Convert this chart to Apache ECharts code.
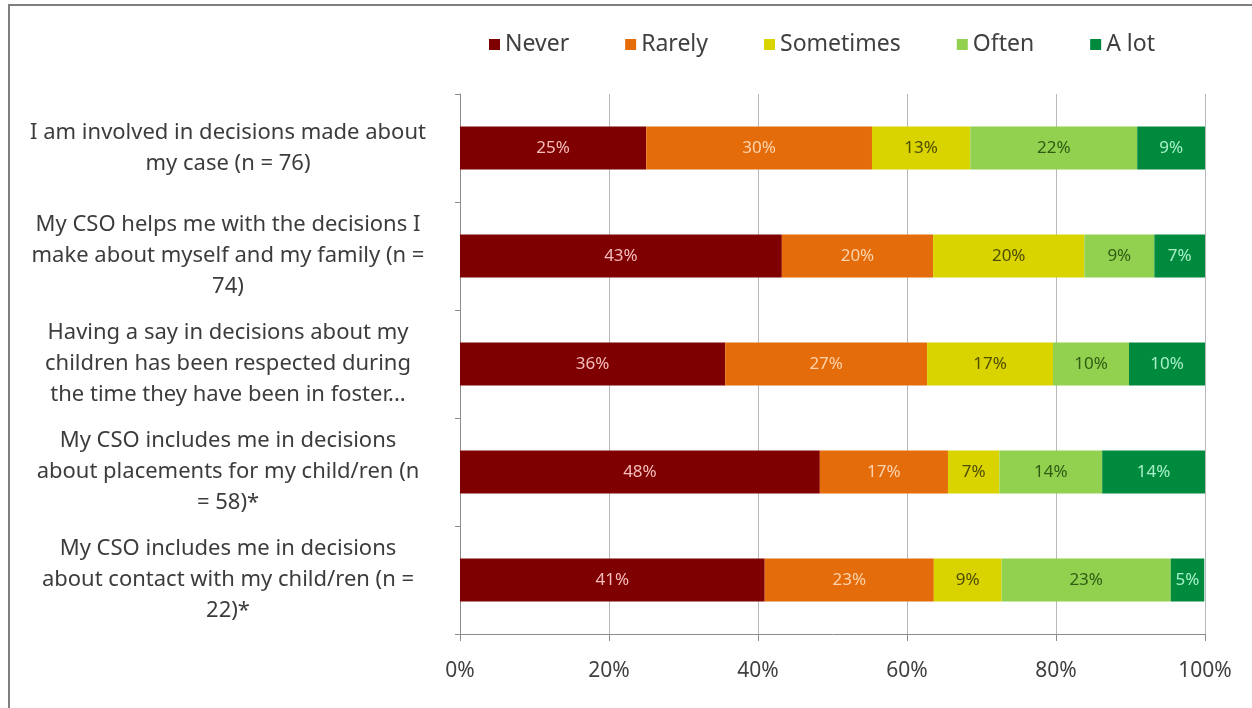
<!DOCTYPE html>
<html>
<head>
<meta charset="utf-8">
<script src="https://cdn.jsdelivr.net/npm/echarts@6/dist/echarts.min.js"></script>
<style>
  html, body { margin: 0; padding: 0; background: #ffffff; }
  #chart { width: 1252px; height: 708px; }
</style>
</head>
<body>
<div id="chart"></div>
<script>
// Survey statements (top to bottom)
const categories = [
  'I am involved in decisions made about\nmy case (n = 76)',
  'My CSO helps me with the decisions I\nmake about myself and my family (n =\n74)',
  'Having a say in decisions about my\nchildren has been respected during\nthe time they have been in foster...',
  'My CSO includes me in decisions\nabout placements for my child/ren (n\n= 58)*',
  'My CSO includes me in decisions\nabout contact with my child/ren (n =\n22)*'
];

// Share of responses per statement, in percent
const never     = [25.0, 43.2, 35.6, 48.3, 40.9];
const rarely    = [30.3, 20.3, 27.1, 17.2, 22.7];
const sometimes = [13.2, 20.3, 16.9,  6.9,  9.1];
const often     = [22.4,  9.4, 10.2, 13.8, 22.7];
const aLot      = [ 9.2,  6.8, 10.2, 13.8,  4.5];

const seriesNames = ['Never', 'Rarely', 'Sometimes', 'Often', 'A lot'];
const xTicks = [0, 20, 40, 60, 80, 100];

const fillColors  = ['#7f0000', '#e46c0a', '#d9d400', '#92d050', '#008a3e'];
const labelColors = ['#f6bcbc', '#fdd3ac', '#4f4d00', '#2f5c12', '#a6f0c6'];
const seriesData  = [never, rarely, sometimes, often, aLot];

const FONT = "'Noto Sans', 'DejaVu Sans', sans-serif";

const chart = echarts.init(document.getElementById('chart'));

const option = {
  backgroundColor: '#ffffff',
  animation: false,
  graphic: [
    // frame around the figure (left and top edges)
    { type: 'line', shape: { x1: 9, y1: 5, x2: 9, y2: 708 }, style: { stroke: '#7f7f7f', lineWidth: 2 } },
    { type: 'line', shape: { x1: 8, y1: 5, x2: 1252, y2: 5 }, style: { stroke: '#7f7f7f', lineWidth: 2 } }
  ],
  legend: {
    top: 28,
    left: 484,
    itemWidth: 11,
    itemHeight: 11,
    itemGap: 56,
    icon: 'rect',
    textStyle: { fontFamily: FONT, fontSize: 23, color: '#404040' },
    data: seriesNames
  },
  grid: { left: 460, right: 47, top: 94, bottom: 74, containLabel: false },
  xAxis: {
    type: 'value',
    min: 0,
    max: 100,
    interval: 20,
    axisLine: { show: true, lineStyle: { color: '#8c8c8c', width: 1 } },
    axisTick: { show: true, length: 7, lineStyle: { color: '#8c8c8c' } },
    splitLine: { show: true, lineStyle: { color: '#b8b8b8', width: 1 } },
    axisLabel: {
      formatter: function (v) { return xTicks.indexOf(v) >= 0 ? v + '%' : ''; },
      fontFamily: FONT, fontSize: 21, color: '#404040', margin: 27
    }
  },
  yAxis: {
    type: 'category',
    inverse: true,
    data: categories,
    axisLine: { show: true, lineStyle: { color: '#8c8c8c', width: 1 } },
    axisTick: { show: true, length: 5, lineStyle: { color: '#8c8c8c' } },
    axisLabel: {
      fontFamily: FONT, fontSize: 22, color: '#3c3c3c',
      align: 'center', margin: 232, lineHeight: 31
    }
  },
  series: seriesNames.map(function (name, i) {
    return {
      name: name,
      type: 'bar',
      stack: 'total',
      barWidth: '40%',
      data: seriesData[i],
      itemStyle: { color: fillColors[i] },
      label: {
        show: true,
        position: 'inside',
        formatter: function (p) { return Math.round(p.value) + '%'; },
        fontFamily: FONT, fontSize: 17, color: labelColors[i]
      }
    };
  })
};

chart.setOption(option);
</script>
</body>
</html>
